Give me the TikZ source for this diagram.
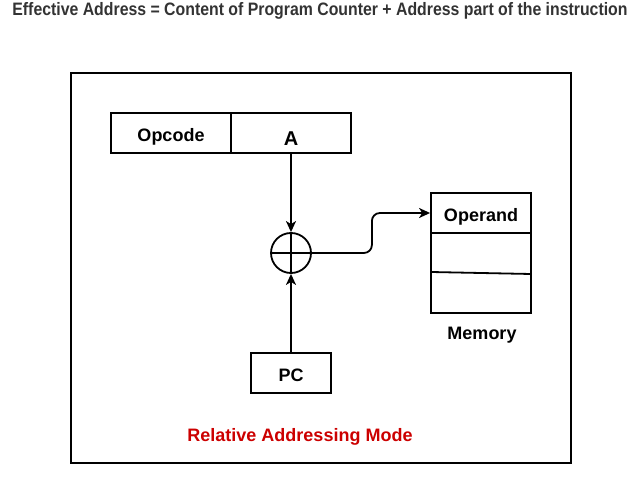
\documentclass[tikz,border=0pt]{standalone}
\usepackage{fontspec}
\setmainfont{Liberation Sans}
\usetikzlibrary{arrows.meta}
\definecolor{titlegray}{HTML}{333333}
\definecolor{modered}{HTML}{CC0000}
\newcommand{\celltext}[2]{\raisebox{#1}[0pt][0pt]{#2}}
\begin{document}
\begin{tikzpicture}[x=1pt,y=-1pt,
  box/.style={draw,line width=1.8pt,inner sep=0pt,font=\bfseries\fontsize{18}{20}\selectfont},
  cell/.style={box,minimum width=120pt,minimum height=40pt},
  conn/.style={line width=1.8pt,-{Stealth[length=11pt,width=10pt,inset=3pt]}},
  lbl/.style={font=\bfseries\fontsize{18}{20}\selectfont}]
\useasboundingbox (0,0) rectangle (637,494);
\node[font=\bfseries\fontsize{18}{20}\selectfont,text=titlegray] (title) at (320,11) {\scalebox{0.88}[1]{Effective Address = Content of Program Counter + Address part of the instruction}};
\node[draw,line width=1.8pt,minimum width=500pt,minimum height=390pt,inner sep=0pt] (outer) at (321,268) {};
\node[cell] (opcode) at (171,133) {\celltext{-8.4pt}{Opcode}};
\node[cell,font=\bfseries\fontsize{20}{22}\selectfont] (a) at (291,133) {\celltext{-12.2pt}{A}};
\node[draw,circle,line width=1.8pt,minimum size=40pt,inner sep=0pt] (sum) at (291,253) {};
\draw[line width=1.8pt] (sum.north) -- (sum.south) (sum.west) -- (sum.east);
\node[box,minimum width=80pt,minimum height=40pt] (pc) at (291,373) {\celltext{-8.9pt}{PC}};
\node[box,minimum width=100pt,minimum height=40pt] (m1) at (481,213) {\celltext{-8.4pt}{Operand}};
\node[box,minimum width=100pt,minimum height=80pt] (mrest) at (481,273) {};
\coordinate (divl) at (431,272);
\coordinate (divr) at (531,274);
\draw[line width=1.8pt] (divl) -- (divr);
\node[lbl] (memlbl) at (482,335) {Memory};
\node[lbl,text=modered] (mode) at (300,437) {Relative Addressing Mode};
\draw[conn] (a.south) -- (sum.north);
\draw[conn] (pc.north) -- (sum.south);
\draw[conn,rounded corners=8pt] (sum.east) -- ++(60,0) |- (m1.west);
\end{tikzpicture}
\end{document}
